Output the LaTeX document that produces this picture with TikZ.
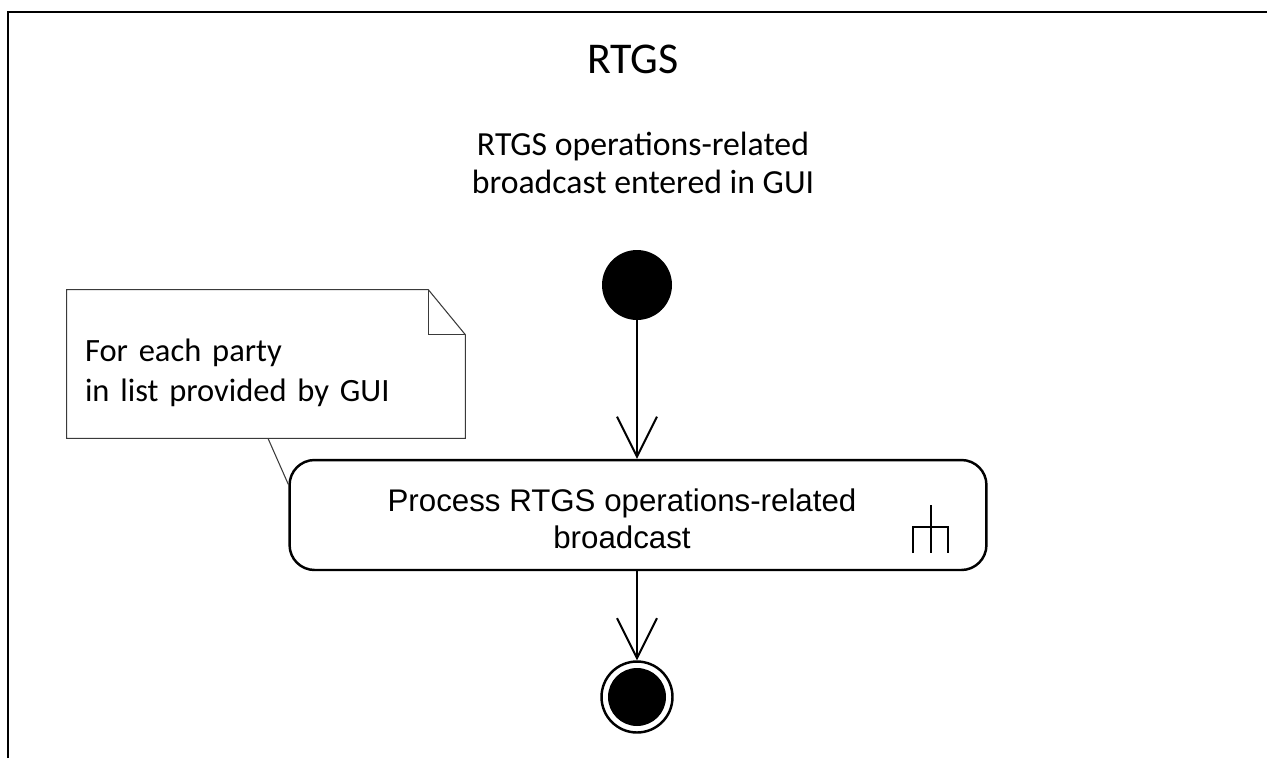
\documentclass[tikz,border=0pt]{standalone}
\usepackage{fontspec}
\setmainfont{Carlito}
\newfontfamily\arialfont{Liberation Sans}
\usepackage{xcolor}
\definecolor{umlink}{HTML}{000000}
\definecolor{umlnoteline}{HTML}{3A3A3A}
\usetikzlibrary{arrows.meta,calc}
\tikzset{
  umlframe/.style={draw=umlink,line width=1.7pt},
  umltitle/.style={font=\fontsize{25}{30}\selectfont,inner sep=0pt},
  umltext/.style={align=center,font=\fontsize{19.2}{22}\selectfont,inner sep=0pt},
  umlinit/.style={circle,fill=umlink,minimum size=1.4cm,inner sep=0pt},
  umlfinal/.style={circle,draw=umlink,line width=1.4pt,minimum size=1.42cm,inner sep=0pt},
  umlaction/.style={draw=umlink,rounded corners=0.5cm,line width=1.4pt,minimum width=13.94cm,minimum height=2.2cm,inner sep=0pt},
  umlacttext/.style={align=center,font=\arialfont\fontsize{17.8}{21}\selectfont,inner sep=0pt},
  umlnote/.style={minimum width=7.96cm,minimum height=2.96cm,text width=7.24cm,inner xsep=0.36cm,align=left,font=\fontsize{18.5}{22.7}\selectfont},
  umlnoteline/.style={draw=umlnoteline,line width=0.6pt},
  umlflow/.style={-{Straight Barb[length=0.8cm,width=0.8cm,line width=1.1pt]},line width=1.1pt},
  umlrake/.style={line width=1.1pt},
}
\begin{document}
\begin{tikzpicture}[x=0.02cm,y=-0.02cm]
\useasboundingbox (0,0) rectangle (1267,758);
\draw[umlframe] (8,758) -- (8,12) -- (1267,12);
\node[umltitle] (title) at (633,59) {RTGS};
\node[umltext] (trigger) at (643,163) {RTGS operations-related\\broadcast entered in GUI};
\node[umlinit] (start) at (637,285) {};
\node[umlaction] (proc) at (638,515) {};
\node[umlacttext] (proctext) at (622,519) {Process RTGS operations-related\\broadcast};
\node[umlfinal] (final) at (637,697) {};
\fill[umlink] (final.center) circle (0.58cm);
% rake icon
\draw[umlrake] (931,505) -- (931,553) (913,553) -- (913,527) -- (948,527) -- (948,553);
% note
\node[umlnote] (note) at (266,364) {\rule{0pt}{23pt}For each party\\in list provided by GUI};
\draw[umlnoteline] (note.south west) -- (note.north west) -- ([xshift=-0.74cm]note.north east)
  -- ([yshift=-0.9cm]note.north east) -- (note.south east) -- cycle;
\draw[umlnoteline] ([xshift=-0.74cm]note.north east) |- ([yshift=-0.9cm]note.north east);
\draw[umlnoteline] ([xshift=0.04cm]note.south) -- (proc.175);
% flows
\draw[umlflow] (start.south) -- (start.south |- proc.north);
\draw[umlflow] (proc.south -| final) -- (final.north);
\end{tikzpicture}
\end{document}
